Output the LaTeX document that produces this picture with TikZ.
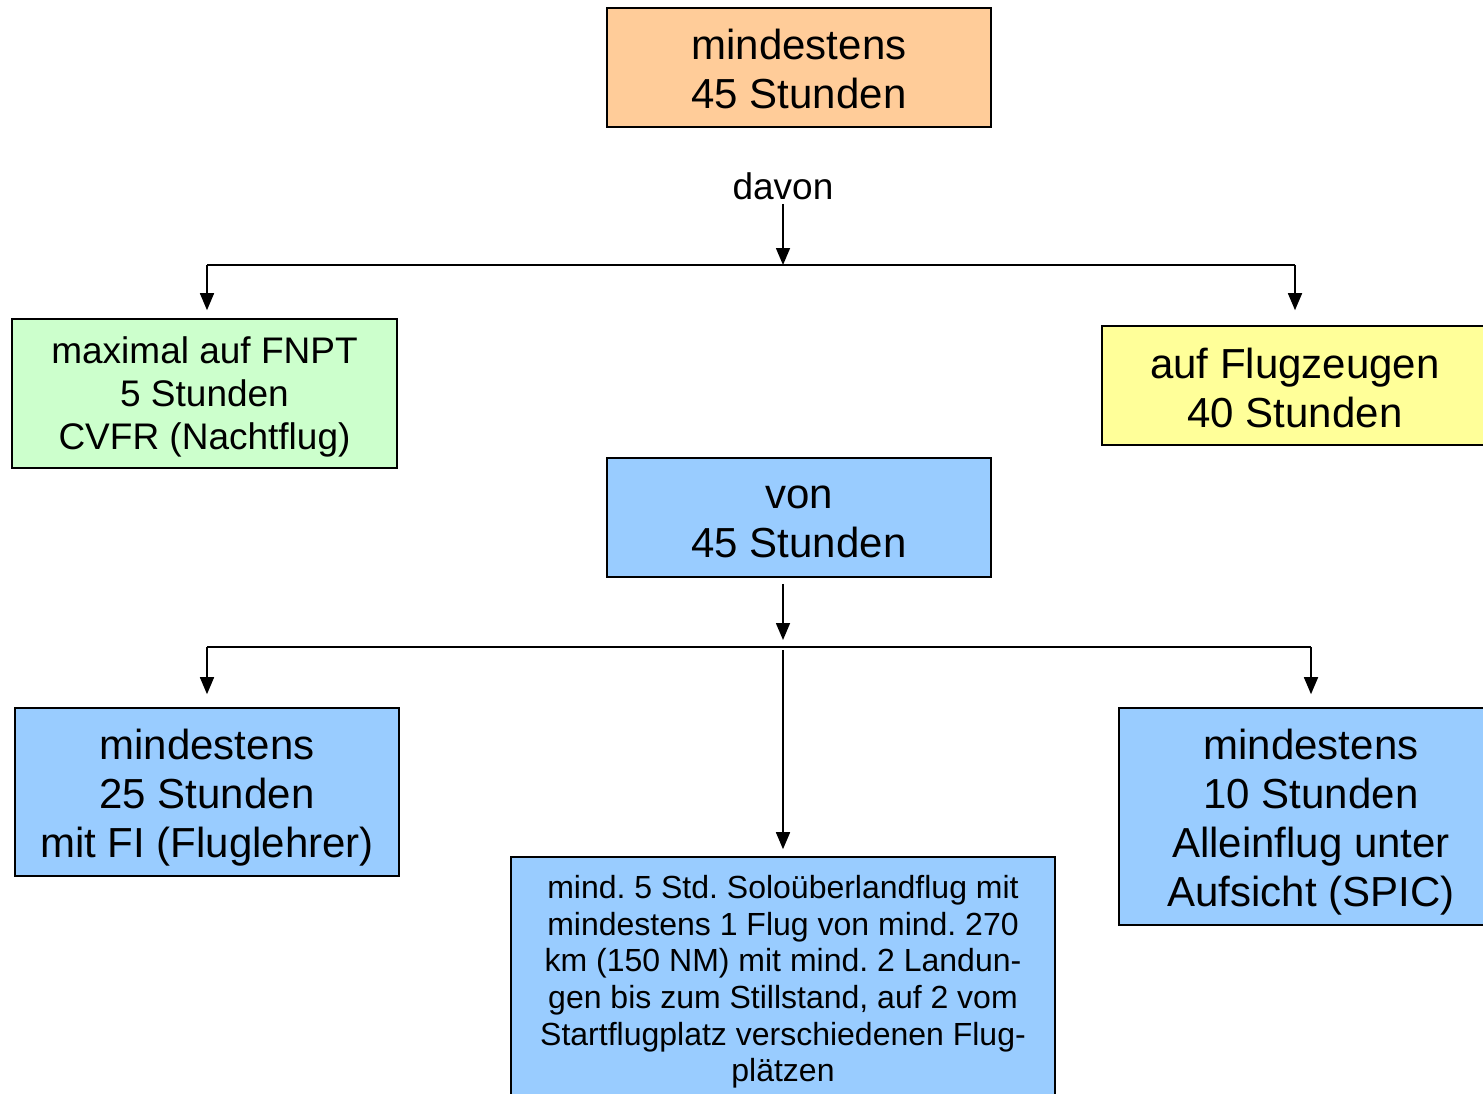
\documentclass[tikz,border=0pt]{standalone}
\usepackage{fontspec}
\setmainfont{Liberation Sans}
\frenchspacing
\usetikzlibrary{arrows.meta}
\definecolor{peach}{HTML}{FFCC99}
\definecolor{lgreen}{HTML}{CCFFCC}
\definecolor{lyellow}{HTML}{FFFF99}
\definecolor{lblue}{HTML}{99CCFF}
\tikzset{
  box/.style={draw=black, line width=1.6pt, rectangle, inner sep=0pt},
  txt/.style={align=center, inner sep=0pt},
  big/.style={txt, font=\fontsize{42}{49}\selectfont},
  mid/.style={txt, font=\fontsize{37}{43}\selectfont},
  small/.style={txt, font=\fontsize{32}{36.6}\selectfont},
  conn/.style={line width=1.6pt, draw=black},
  arr/.style={conn, -{Triangle[length=17pt, width=14pt]}},
}
\begin{document}
\begin{tikzpicture}[x=1pt, y=-1pt]
\clip (0,0) rectangle (1483,1094);
\fill[white] (0,0) rectangle (1483,1094);

\node[box, fill=peach, minimum width=384pt, minimum height=119pt] (top) at (799,67.5) {};
\node[big] (top-t) at ([yshift=-1pt]top.center) {mindestens\\45 Stunden};

\node[mid] (davon) at (783,186) {davon};

\node[box, fill=lgreen, minimum width=385pt, minimum height=149pt] (fnpt) at (204.5,393.5) {};
\node[mid] (fnpt-t) at ([yshift=-3.5pt]fnpt.center) {maximal auf FNPT\\5 Stunden\\CVFR (Nachtflug)};

\node[box, fill=lyellow, minimum width=386pt, minimum height=119pt] (flz) at (1295,385.5) {};
\node[big] (flz-t) at ([yshift=-2.5pt]flz.center) {auf Flugzeugen\\40 Stunden};

\node[box, fill=lblue, minimum width=384pt, minimum height=119pt] (von) at (799,517.5) {};
\node[big] (von-t) at ([yshift=-4.5pt]von.center) {von\\45 Stunden};

\node[box, fill=lblue, minimum width=384pt, minimum height=168pt] (fi) at (207,792) {};
\node[big] (fi-t) at ([yshift=-6pt]fi.center) {mindestens\\25 Stunden\\mit FI (Fluglehrer)};

\node[box, fill=lblue, minimum width=384pt, minimum height=217pt] (spic) at (1311,816.5) {};
\node[big] (spic-t) at ([yshift=-6pt]spic.center) {mindestens\\10 Stunden\\Alleinflug unter\\Aufsicht (SPIC)};

\node[box, fill=lblue, minimum width=544pt, minimum height=246pt] (solo) at (783,980) {};
\node[small] (solo-t) at ([yshift=-2pt]solo.center) {mind. 5 Std. Soloüberlandflug mit\\mindestens 1 Flug von mind. 270\\km (150 NM) mit mind. 2 Landun-\\gen bis zum Stillstand, auf 2 vom\\Startflugplatz verschiedenen Flug-\\plätzen};

\coordinate (j1) at (783,265);
\coordinate (j1L) at (207,265);
\coordinate (j1R) at (1295,265);
\draw[arr] ([yshift=-4pt]davon.south) -- (j1);
\draw[conn] (j1L) -- (j1R);
\draw[arr] (j1L) -- ([yshift=8pt]j1L |- fnpt.north);
\draw[arr] (j1R) -- ([yshift=15pt]j1R |- flz.north);

\coordinate (j2) at (783,647);
\coordinate (j2L) at (207,647);
\coordinate (j2R) at (1311,647);
\draw[arr] ([yshift=-6pt]von.south -| j2) -- ([yshift=7pt]j2);
\draw[conn] (j2L) -- (j2R);
\draw[arr] (j2L) -- ([yshift=13pt]j2L |- fi.north);
\draw[arr] (j2R) -- ([yshift=13pt]j2R |- spic.north);
\draw[arr] ([yshift=-3pt]j2) -- ([yshift=7pt]solo.north);
\end{tikzpicture}
\end{document}
